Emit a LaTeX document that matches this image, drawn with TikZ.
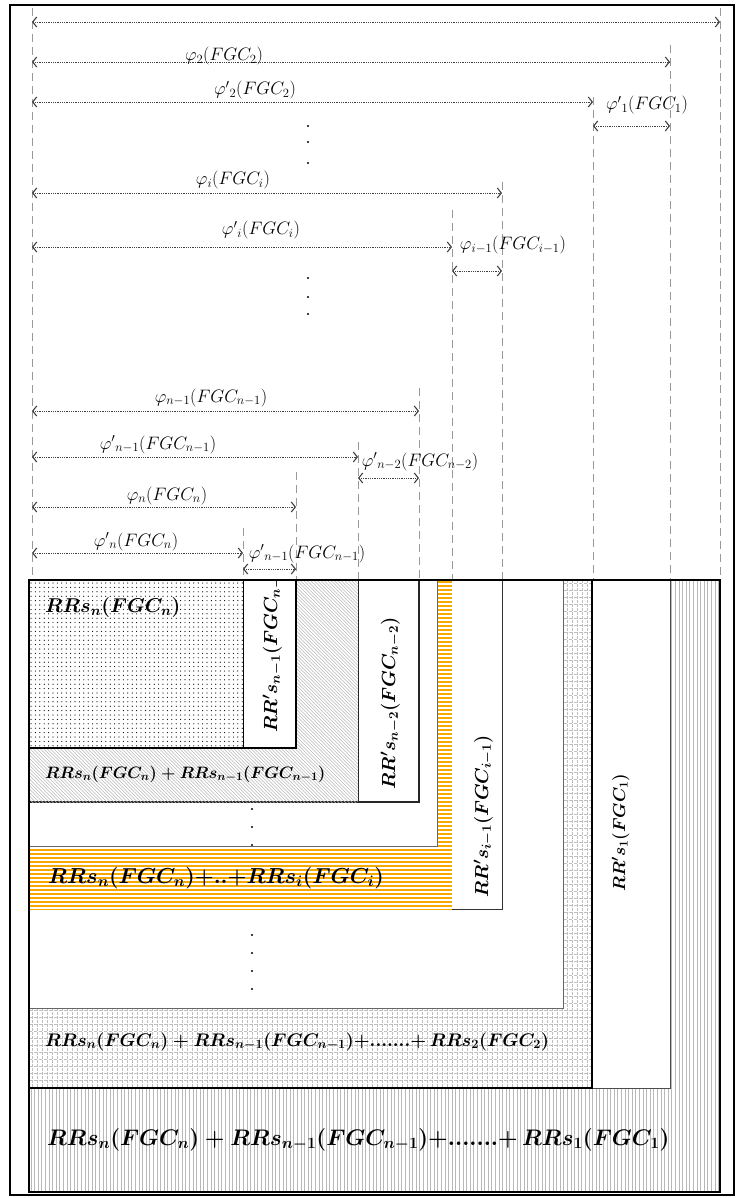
\RequirePackage{fix-cm}
\documentclass[tikz,border=0pt]{standalone}
\usetikzlibrary{arrows.meta}
\definecolor{stripeorange}{RGB}{246,170,0}
\newcommand\mylab[1]{$#1$}
\newcommand\bmath[1]{{\boldmath$#1$}}
\begin{document}
\begin{tikzpicture}[x=1pt,y=-1pt,
  guide/.style={draw=gray!80, line width=0.8pt, dash pattern=on 8pt off 5pt},
  dimarrow/.style={draw=black!75, line width=0.8pt, densely dotted,
     {Straight Barb[length=4pt,width=10pt,line width=1.1pt]}-{Straight Barb[length=4pt,width=10pt,line width=1.1pt]}},
  philab/.style={inner sep=0pt, anchor=base, font=\fontsize{18}{20}\selectfont},
  boxlab/.style={inner sep=0pt, anchor=base west},
  rotlab/.style={inner sep=0pt, anchor=base west, rotate=90},
  vdot/.style={circle, fill=black, inner sep=0pt, minimum size=2.2pt},
  thickbox/.style={draw=black, line width=1.6pt},
  thinbox/.style={draw=black!70, line width=0.9pt}]
\useasboundingbox (0,0) rectangle (736,1198);

% ---------- outer frame ----------
\draw[line width=1.5pt] (10,5) rectangle (734,1195);

% ---------- dashed guide lines ----------
\foreach \gx/\gy in {32/8,720/8,670/45,593/97,502/182,452/210,419/388,358/442,296/472,243/528}
  \draw[guide] (\gx,\gy) -- (\gx,580);

% ---------- dimension arrows ----------
\coordinate (r1l) at (32,22);   \coordinate (r1r) at (720,22);
\coordinate (r2l) at (32,62);   \coordinate (r2r) at (670,62);
\coordinate (r3l) at (32,102);  \coordinate (r3r) at (593,102);
\coordinate (r4l) at (593,126); \coordinate (r4r) at (670,126);
\coordinate (r5l) at (32,193);  \coordinate (r5r) at (502,193);
\coordinate (r6l) at (32,247);  \coordinate (r6r) at (452,247);
\coordinate (r7l) at (452,271); \coordinate (r7r) at (502,271);
\coordinate (r8l) at (32,411);  \coordinate (r8r) at (419,411);
\coordinate (r9l) at (32,457);  \coordinate (r9r) at (358,457);
\coordinate (r10l) at (358,478); \coordinate (r10r) at (419,478);
\coordinate (r11l) at (32,507); \coordinate (r11r) at (296,507);
\coordinate (r12l) at (32,553); \coordinate (r12r) at (243,553);
\coordinate (r13l) at (243,569); \coordinate (r13r) at (296,569);
\foreach \r in {1,...,13} \draw[dimarrow] (r\r l) -- (r\r r);

\node[philab] (p2)  at (224,61)  {\mylab{\varphi_2(FGC_2)}};
\node[philab] (pp2) at (255,95)  {\mylab{\varphi'{}_2(FGC_2)}};
\node[philab] (pp1) at (647,110) {\mylab{\varphi'{}_1(FGC_1)}};
\node[philab] (pi)  at (233,185) {\mylab{\varphi_i(FGC_i)}};
\node[philab] (ppi) at (261,235) {\mylab{\varphi'{}_i(FGC_i)}};
\node[philab] (pim) at (513,250) {\mylab{\varphi_{i-1}(FGC_{i-1})}};
\node[philab] (pnm) at (211,402) {\mylab{\varphi_{n-1}(FGC_{n-1})}};
\node[philab] (ppnm) at (158,449) {\mylab{\varphi'{}_{n-1}(FGC_{n-1})}};
\node[philab] (ppnmm) at (420,466) {\mylab{\varphi'{}_{n-2}(FGC_{n-2})}};
\node[philab] (pn)  at (167,500) {\mylab{\varphi_n(FGC_n)}};
\node[philab] (ppn) at (136,546) {\mylab{\varphi'{}_n(FGC_n)}};
\node[philab] (ppnm2) at (307,558) {\mylab{\varphi'{}_{n-1}(FGC_{n-1})}};

\foreach \dy [count=\k] in {126,142,163,278,297,314}
  \node[vdot] (td\k) at (308,\dy) {};

% ---------- nested regions ----------
% outermost region: vertical grey lines
\fill[white] (29,580) rectangle (720,1192);
\begin{scope}
  \clip (29,580) rectangle (720,1192);
  \foreach \vx in {31,34.6,...,720} \draw[gray!55, line width=0.9pt] (\vx,580) -- (\vx,1192);
\end{scope}
% white strip RR's_1
\path[fill=white, thinbox] (29,580) rectangle (670,1088);
% grid region
\fill[white] (29,580) rectangle (592,1088);
\begin{scope}
  \clip (29,580) rectangle (592,1088);
  \foreach \gy in {583,590,...,1088} \draw[gray!50, line width=0.45pt, dash pattern=on 3pt off 2pt] (29,\gy) -- (592,\gy);
  \foreach \gx in {32,37,...,592} \draw[gray!50, line width=0.45pt, dash pattern=on 2.5pt off 1.5pt] (\gx,580) -- (\gx,1088);
\end{scope}
\draw[thickbox] (29,580) rectangle (592,1088);
% white box inside grid
\path[fill=white, draw=black!60, line width=0.8pt] (29,580) rectangle (563,1008);
% RR's_{i-1} strip box
\path[fill=white, draw=black!80, line width=1pt] (29,580) rectangle (502,909);
% orange stripes
\begin{scope}
  \clip (29,580) rectangle (452,909);
  \foreach \oy in {582,586,...,910} \draw[stripeorange, line width=2.6pt] (29,\oy) -- (452,\oy);
\end{scope}
% white box inside orange
\path[fill=white, draw=black!60, line width=0.8pt] (29,580) rectangle (437,846);
% RR's_{n-2} strip box + diagonal hatch
\path[fill=white, draw=black!85, line width=1.2pt] (29,580) rectangle (419,802);
\begin{scope}
  \clip (29,580) rectangle (358,802);
  \foreach \hx in {-200,-196.6,...,360} \draw[gray!55, line width=0.55pt] (\hx,580) -- ++(230,230);
\end{scope}
\draw[black!85, line width=1pt] (358,580) -- (358,802);
% dotted region + RR's_{n-1} strip
\fill[white] (29,580) rectangle (296,748);
\begin{scope}
  \clip (29,580) rectangle (243,748);
  \foreach \dx in {31,35.4,...,243}
    \foreach \dy in {583,587.4,...,748}
      \fill[black] (\dx,\dy) circle (0.6);
\end{scope}
\draw[black, line width=1pt] (243,580) -- (243,748);
\draw[black, line width=2.2pt] (29,580) rectangle (296,748);
% big box outline
\draw[black, line width=1.8pt] (29,580) rectangle (720,1192);
\draw[black, line width=1.2pt] (592,580) -- (592,1088);

% ---------- texts in regions ----------
\node[boxlab, font=\fontsize{20}{22}\selectfont] (t1) at (45,612) {\bmath{RRs_n(FGC_n)}};
\node[boxlab, font=\fontsize{16.5}{18}\selectfont] (t2) at (45,778) {\bmath{RRs_n(FGC_n)+RRs_{n-1}(FGC_{n-1})}};
\node[boxlab, font=\fontsize{21.7}{24}\selectfont] (t3) at (48,883) {\bmath{RRs_n(FGC_n){+}{..}{+}RRs_i(FGC_i)}};
\node[boxlab, font=\fontsize{18.2}{20}\selectfont] (t4) at (45,1046) {\bmath{RRs_n(FGC_n)+RRs_{n-1}(FGC_{n-1}){+}{.......}{+}\,RRs_2(FGC_2)}};
\node[boxlab, font=\fontsize{22.5}{25}\selectfont] (t5) at (47,1145) {\bmath{RRs_n(FGC_n)+RRs_{n-1}(FGC_{n-1}){+}{.......}{+}\,RRs_1(FGC_1)}};

\begin{scope}
  \clip (243,580) rectangle (296,748);
  \node[rotlab, font=\fontsize{19}{21}\selectfont] (v1) at (277,733) {\bmath{RR's_{n-1}(FGC_{n-1})}};
\end{scope}
\node[rotlab, font=\fontsize{19}{21}\selectfont] (v2) at (395,790) {\bmath{RR's_{n-2}(FGC_{n-2})}};
\node[rotlab, font=\fontsize{18.8}{21}\selectfont] (v3) at (488,898) {\bmath{RR's_{i-1}(FGC_{i-1})}};
\node[rotlab, font=\fontsize{17.3}{19}\selectfont] (v4) at (625,892) {\bmath{RR's_1(FGC_1)}};

\foreach \dy [count=\k] in {809,827,845,935,953,971,989}
  \node[vdot] (bd\k) at (252,\dy) {};
\end{tikzpicture}
\end{document}
